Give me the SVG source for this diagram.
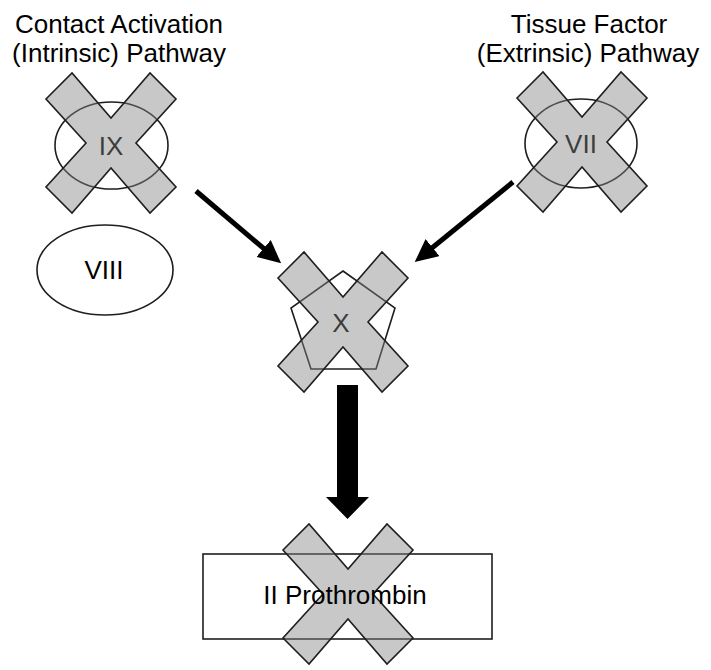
<svg xmlns="http://www.w3.org/2000/svg" width="711" height="670" viewBox="0 0 711 670">
<style>
text{font-family:"Liberation Sans",Arial,sans-serif;font-size:26px;fill:#000;text-anchor:middle}
.shape{fill:none;stroke:#1e1e1e;stroke-width:1.6}
.xmark{fill:#858585;fill-opacity:0.45;stroke:#1e1e1e;stroke-width:1.6;stroke-linejoin:miter}
.arrow{stroke:#000;stroke-width:5;fill:none}
</style>
<defs>
<polygon id="xm" points="-65,-44 -39,-70 0,-25 39,-70 65,-44 25,0 65,44 39,70 0,25 -39,70 -65,44 -25,0"/>
<marker id="ah" markerUnits="userSpaceOnUse" markerWidth="24" markerHeight="22" refX="11" refY="11" orient="auto">
<path d="M0,0 L23,11 L0,22 z" fill="#000"/>
</marker>
</defs>
<g id="title-intrinsic">
<text x="119" y="33">Contact Activation</text>
<text x="119" y="62">(Intrinsic) Pathway</text>
</g>
<g id="title-extrinsic">
<text x="589" y="33">Tissue Factor</text>
<text x="588" y="62">(Extrinsic) Pathway</text>
</g>
<g id="node-IX">
<ellipse class="shape" cx="111.5" cy="145.5" rx="56.5" ry="43.5"/>
<text x="111" y="155">IX</text>
<use href="#xm" class="xmark" transform="translate(111,143)"/>
</g>
<g id="node-VII">
<ellipse class="shape" cx="581" cy="143.5" rx="56" ry="44.5"/>
<text x="581" y="153">VII</text>
<use href="#xm" class="xmark" transform="translate(582,142)"/>
</g>
<g id="node-VIII">
<ellipse class="shape" cx="105" cy="270" rx="68" ry="45"/>
<text x="104" y="279">VIII</text>
</g>
<g id="node-X">
<polygon class="shape" points="343,271 395,308 376,369 311,369 291,308"/>
<text x="341" y="332">X</text>
<use href="#xm" class="xmark" transform="translate(343,322)"/>
</g>
<g id="node-II">
<rect class="shape" x="203" y="554" width="289" height="85" stroke-width="2"/>
<use href="#xm" class="xmark" transform="translate(348,594)"/>
<text x="345" y="604">II Prothrombin</text>
</g>
<g id="connectors">
<line class="arrow" x1="196" y1="191" x2="272" y2="255.5" marker-end="url(#ah)"/>
<line class="arrow" x1="513" y1="182" x2="424" y2="254.5" marker-end="url(#ah)"/>
<polygon points="337,385 358,385 358,497 369,497 347.5,519 326,497 337,497" fill="#000"/>
</g>
</svg>
